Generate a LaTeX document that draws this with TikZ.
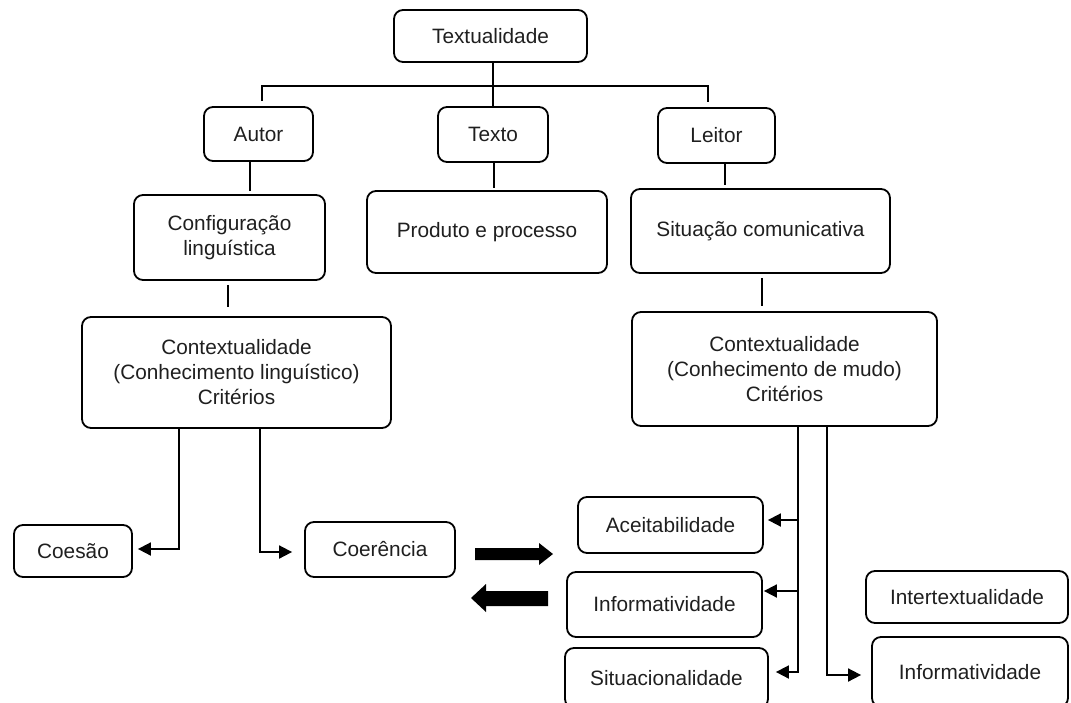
\documentclass[tikz,border=0pt]{standalone}
\usepackage{fontspec}
\setmainfont{Liberation Sans}
\usetikzlibrary{arrows.meta}
\begin{document}
\begin{tikzpicture}[x=1pt,y=-1pt,
  box/.style={draw, line width=1.8pt, rounded corners=9pt, align=center, inner sep=0pt,
              font=\fontsize{20.8}{25}\selectfont, text=black!88},
  conn/.style={line width=1.8pt},
  stub/.style={line width=2.4pt},
  arr/.style={line width=1.8pt, -{Triangle[length=13pt,width=13pt]}},
]
\path[use as bounding box] (0,0) rectangle (1071,702);
\clip (0,0) rectangle (1071,702);

% boxes
\node[box, minimum width=193pt, minimum height=52pt] (tex) at (490.5,36) {Textualidade};
\node[box, minimum width=109pt, minimum height=54pt] (autor) at (258.5,134) {Autor};
\node[box, minimum width=110pt, minimum height=55pt] (texto) at (493,134.5) {Texto};
\node[box, minimum width=117pt, minimum height=55pt] (leitor) at (716.5,135.5) {Leitor};
\node[box, minimum width=191pt, minimum height=85pt] (config) at (229.5,237.5) {Configuração\\linguística};
\node[box, minimum width=240pt, minimum height=82pt] (produto) at (487,232) {Produto e processo};
\node[box, minimum width=259pt, minimum height=84pt] (situacao) at (760.5,231) {Situação comunicativa};
\node[box, minimum width=309pt, minimum height=111pt] (ctxL) at (236.5,372.5) {Contextualidade\\(Conhecimento linguístico)\\Critérios};
\node[box, minimum width=305pt, minimum height=114pt] (ctxR) at (784.5,369) {Contextualidade\\(Conhecimento de mudo)\\Critérios};
\node[box, minimum width=118pt, minimum height=52pt] (coesao) at (73,551) {Coesão};
\node[box, minimum width=150pt, minimum height=55pt] (coerencia) at (380,549.5) {Coerência};
\node[box, minimum width=185pt, minimum height=56pt] (acei) at (670.5,525) {Aceitabilidade};
\node[box, minimum width=195pt, minimum height=65pt] (infL) at (664.5,604.5) {Informatividade};
\node[box, minimum width=203pt, minimum height=60pt] (situ) at (666.5,678) {Situacionalidade};
\node[box, minimum width=202pt, minimum height=52pt] (inter) at (967,597) {Intertextualidade};
\node[box, minimum width=196pt, minimum height=70pt] (infR) at (970,672) {Informatividade};

% top tree
\draw[conn] (texto.north) -- (texto.north |- tex.south);
\draw[conn] ([xshift=3.5pt,yshift=5pt]autor.north) -- ++(0,-15) -| ([xshift=-8.5pt,yshift=5pt]leitor.north);

% stubs
\draw[stub, shorten >=3pt] ([xshift=-8.5pt]autor.south) -- ([xshift=-8.5pt]autor.south |- config.north);
\draw[stub, shorten <=4pt, shorten >=9pt] ([xshift=-1.5pt]config.south) -- ([xshift=-1.5pt]config.south |- ctxL.north);
\draw[stub, shorten >=2pt] ([xshift=1pt]texto.south) -- ([xshift=1pt]texto.south |- produto.north);
\draw[conn, shorten >=3pt] ([xshift=8.5pt]leitor.south) -- ([xshift=8.5pt]leitor.south |- situacao.north);
\draw[conn, shorten <=4pt, shorten >=5pt] ([xshift=1.5pt]situacao.south) -- ([xshift=1.5pt]situacao.south |- ctxR.north);

% left criteria
\draw[arr, shorten >=5pt] ([xshift=-57.5pt]ctxL.south) |- ([yshift=2pt]coesao.east);
\draw[arr, shorten >=12pt] ([xshift=23.5pt]ctxL.south) |- ([yshift=-2.5pt]coerencia.west);

% right criteria
\draw[arr, shorten >=4pt] ([xshift=13.5pt]ctxR.south) |- ([yshift=5pt]acei.east);
\draw[arr, shorten >=1pt] ([xshift=13.5pt]ctxR.south) |- ([yshift=13.5pt]infL.east);
\draw[arr, shorten >=7pt] ([xshift=13.5pt]ctxR.south) |- ([yshift=6pt]situ.east);
\draw[arr, shorten >=10pt] ([xshift=42.5pt]ctxR.south) |- ([yshift=-3pt]infR.west);

% fat arrows
\fill (475,548) -- (539,548) -- (539,543) -- (553,554) -- (539,565) -- (539,560) -- (475,560) -- cycle;
\fill (548,591) -- (486,591) -- (486,584) -- (471,598) -- (486,612) -- (486,606) -- (548,606) -- cycle;
\end{tikzpicture}
\end{document}
